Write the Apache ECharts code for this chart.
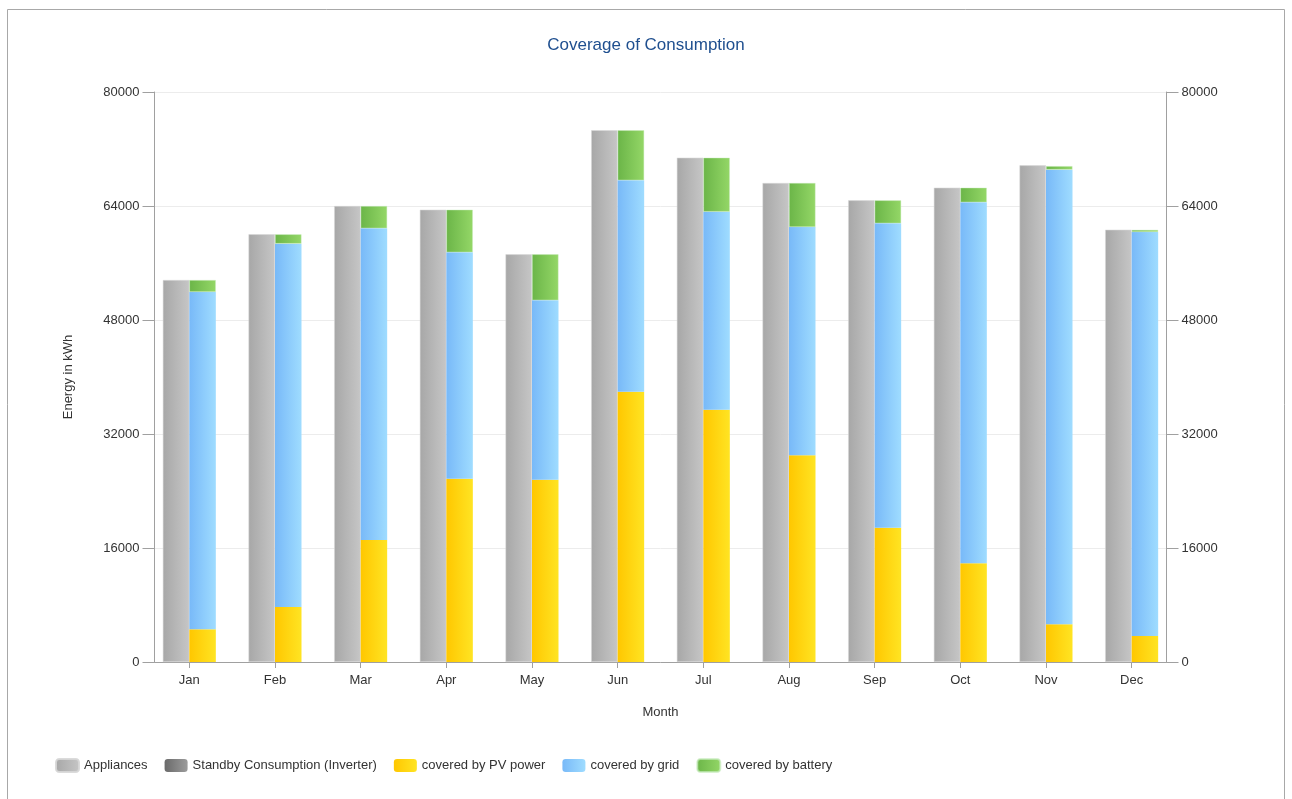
<!DOCTYPE html>
<html>
<head>
<meta charset="utf-8">
<title>Coverage of Consumption</title>
<script src="https://cdn.jsdelivr.net/npm/echarts@6/dist/echarts.min.js"></script>
<style>
  html, body { margin: 0; padding: 0; background: #ffffff; }
  #chart { width: 1292px; height: 799px; }
</style>
</head>
<body>
<div id="chart"></div>
<script>
// Monthly energy balance, kWh
const months = ['Jan', 'Feb', 'Mar', 'Apr', 'May', 'Jun', 'Jul', 'Aug', 'Sep', 'Oct', 'Nov', 'Dec'];
const appliances = [53610, 60030, 64000, 63480, 57220, 74630, 70780, 67230, 64800, 66570, 69710, 60670];
const standby = [0, 0, 0, 0, 0, 0, 0, 0, 0, 0, 0, 0];
const coveredPV = [4590, 7720, 17120, 25730, 25590, 37940, 35410, 29010, 18850, 13850, 5290, 3650];
const coveredGrid = [47340, 50990, 43750, 31770, 25180, 29670, 27790, 32040, 42720, 50670, 63810, 56700];
const coveredBattery = [1680, 1320, 3130, 5980, 6450, 7020, 7580, 6180, 3230, 2050, 500, 300];
const yTicks = { min: 0, max: 80000, interval: 16000 };

const FONT = '"Liberation Sans", Arial, sans-serif';
const grad = (a, b) => new echarts.graphic.LinearGradient(0, 0, 1, 0, [
  { offset: 0, color: a }, { offset: 1, color: b }
]);

const chart = echarts.init(document.getElementById('chart'), null, { renderer: 'canvas' });

const barBase = {
  type: 'bar',
  xAxisIndex: 1,
  yAxisIndex: 2,
  barWidth: 26.5,
  barGap: '0%',
  emphasis: { disabled: true }
};

const valueLabel = { color: '#333', fontSize: 13, margin: 15, formatter: v => String(v), fontFamily: FONT };

chart.setOption({
  animation: false,
  backgroundColor: '#ffffff',
  textStyle: { fontFamily: FONT },
  title: {
    text: 'Coverage of Consumption',
    left: 'center',
    top: 32,
    textStyle: { color: '#1f4f8f', fontSize: 17, fontWeight: 'normal', fontFamily: FONT }
  },
  graphic: [{
    type: 'rect',
    shape: { x: 7.5, y: 9.5, width: 1277, height: 820 },
    style: { fill: 'none', stroke: '#a8a8a8', lineWidth: 1 },
    silent: true
  }],
  legend: {
    left: 50,
    top: 753,
    itemWidth: 23,
    itemHeight: 13,
    itemGap: 17,
    icon: 'roundRect',
    textStyle: { color: '#333', fontSize: 13, fontFamily: FONT },
    data: ['Appliances', 'Standby Consumption (Inverter)', 'covered by PV power', 'covered by grid', 'covered by battery']
  },
  grid: [
    // frame grid: axis lines, y axes and split lines
    { left: 154.5, right: 125.5, top: 92, bottom: 137 },
    // category grid holding the bars
    { left: 146.5, right: 117.5, top: 92, bottom: 137 }
  ],
  xAxis: [
    {
      type: 'value', gridIndex: 0, min: 0, max: 1,
      axisLine: { show: true, lineStyle: { color: '#a0a0a0' } },
      axisTick: { show: false }, axisLabel: { show: false }, splitLine: { show: false }
    },
    {
      type: 'category', gridIndex: 1, data: months,
      name: 'Month', nameLocation: 'middle', nameGap: 44,
      nameTextStyle: { color: '#333', fontSize: 13, fontFamily: FONT },
      axisLine: { show: false },
      axisTick: { show: true, alignWithLabel: true, length: 6, lineStyle: { color: '#a0a0a0' } },
      axisLabel: { color: '#333', fontSize: 13, margin: 12, fontFamily: FONT },
      splitLine: { show: false }
    }
  ],
  yAxis: [
    {
      type: 'value', gridIndex: 0, position: 'left',
      min: yTicks.min, max: yTicks.max, interval: yTicks.interval,
      name: 'Energy in kWh', nameLocation: 'middle', nameGap: 80, nameRotate: 90,
      nameTextStyle: { color: '#333', fontSize: 13, fontFamily: FONT },
      axisLine: { show: true, lineStyle: { color: '#a0a0a0' } },
      axisTick: { show: true, length: 12, lineStyle: { color: '#a0a0a0' } },
      axisLabel: valueLabel,
      splitLine: { show: true, lineStyle: { color: '#ececec', width: 1 } }
    },
    {
      type: 'value', gridIndex: 0, position: 'right',
      min: yTicks.min, max: yTicks.max, interval: yTicks.interval,
      axisLine: { show: true, lineStyle: { color: '#a0a0a0' } },
      axisTick: { show: true, length: 12, lineStyle: { color: '#a0a0a0' } },
      axisLabel: valueLabel,
      splitLine: { show: false }
    },
    {
      type: 'value', gridIndex: 1,
      min: yTicks.min, max: yTicks.max, interval: yTicks.interval,
      show: false, splitLine: { show: false }
    }
  ],
  series: [
    Object.assign({}, barBase, {
      name: 'Appliances', stack: 'consumption', data: appliances,
      itemStyle: { color: grad('#a7a7a7', '#c6c6c6'), borderColor: 'rgba(215,215,215,0.9)', borderWidth: 0.6 }
    }),
    Object.assign({}, barBase, {
      name: 'Standby Consumption (Inverter)', stack: 'consumption', data: standby,
      itemStyle: { color: grad('#6a6a6a', '#9c9c9c') }
    }),
    Object.assign({}, barBase, {
      name: 'covered by PV power', stack: 'coverage', data: coveredPV,
      itemStyle: { color: grad('#ffc700', '#ffe423') }
    }),
    Object.assign({}, barBase, {
      name: 'covered by grid', stack: 'coverage', data: coveredGrid,
      itemStyle: { color: grad('#78b9f8', '#9fdcff') }
    }),
    Object.assign({}, barBase, {
      name: 'covered by battery', stack: 'coverage', data: coveredBattery,
      itemStyle: { color: grad('#6bb548', '#94d767'), borderColor: 'rgba(200,235,190,0.7)', borderWidth: 0.6 }
    })
  ]
});
</script>
</body>
</html>
